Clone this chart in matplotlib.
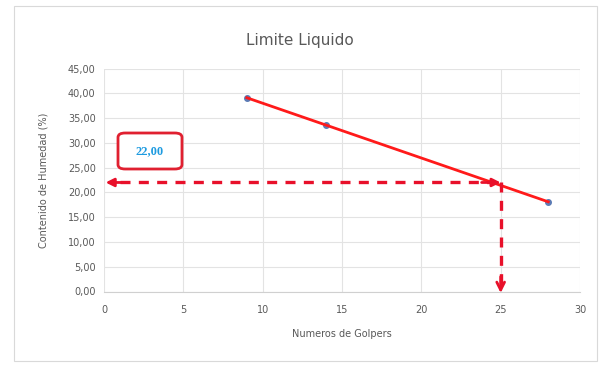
import matplotlib

matplotlib.use("Agg")

from matplotlib import pyplot as plt
from matplotlib.patches import FancyBboxPatch, Rectangle

golpes = [9, 14, 28]
humedad = [39.1, 33.6, 18.1]
limite_liquido = 22.00
golpes_ref = 25
x_ticks = [0, 5, 10, 15, 20, 25, 30]
y_ticks = [0, 5, 10, 15, 20, 25, 30, 35, 40, 45]

RED = "#e8102a"
GRAY = "#595959"

fig = plt.figure(figsize=(5.99, 3.65), dpi=100)
fig.patch.set_facecolor("white")

# chart frame
fig.patches.append(Rectangle((14 / 599, 4 / 365), 583 / 599, 355 / 365, transform=fig.transFigure,
                             fill=False, edgecolor="#d9d9d9", linewidth=0.8))

ax = fig.add_axes([104 / 599, 1 - 291.5 / 365, 476 / 599, 223 / 365])
ax.set_xlim(0, 30)
ax.set_ylim(0, 45)
ax.set_xticks(x_ticks)
ax.set_yticks(y_ticks)
ax.set_yticklabels([f"{v:.2f}".replace(".", ",") for v in y_ticks])
ax.grid(True, color="#e3e3e3", linewidth=0.8)
ax.set_axisbelow(True)
for side in ["top", "right", "left"]:
    ax.spines[side].set_visible(False)
ax.spines["bottom"].set_color("#d0d0d0")
ax.tick_params(length=0, labelsize=7, colors=GRAY, pad=6)
ax.tick_params(axis="x", pad=10)

ax.plot(golpes, humedad, "o", color="#5b7bb5", markersize=4, zorder=3)
ax.plot([golpes[0], golpes[-1]], [humedad[0], humedad[-1]], color="#ff1a1a", linewidth=2, zorder=4)

# dashed lectura lines
ax.plot([1.0, golpes_ref - 0.6], [limite_liquido, limite_liquido], color=RED, linewidth=2.4,
        dashes=(3, 2.5), zorder=5, clip_on=False)
ax.plot([golpes_ref, golpes_ref], [limite_liquido, 1.5], color=RED, linewidth=2.4,
        dashes=(3, 2.5), zorder=5, clip_on=False)

# arrow heads
ax.annotate("", xy=(0.1, limite_liquido), xytext=(1.2, limite_liquido),
            arrowprops=dict(arrowstyle="-|>", color=RED, linewidth=2, mutation_scale=12,
                            shrinkA=0, shrinkB=0), annotation_clip=False, zorder=6)
ax.annotate("", xy=(golpes_ref, limite_liquido), xytext=(golpes_ref - 1.2, limite_liquido),
            arrowprops=dict(arrowstyle="-|>", color=RED, linewidth=2, mutation_scale=12,
                            shrinkA=0, shrinkB=0), annotation_clip=False, zorder=6)
ax.annotate("", xy=(golpes_ref, -0.3), xytext=(golpes_ref, 3.0),
            arrowprops=dict(arrowstyle="->", color=RED, linewidth=2, mutation_scale=14,
                            shrinkA=0, shrinkB=0), annotation_clip=False, zorder=6)

# label box
fig.patches.append(FancyBboxPatch((118 / 599, 1 - 169 / 365), 64 / 599, 36 / 365,
                                  boxstyle="round,pad=0,rounding_size=0.012", transform=fig.transFigure,
                                  facecolor="white", edgecolor="#e02030", linewidth=2))
fig.text(150 / 599, 1 - 151 / 365, f"{limite_liquido:.2f}".replace(".", ","), ha="center", va="center",
         fontsize=9, fontweight="bold", color="#1e9be0", family="Liberation Serif")

fig.text(300 / 599, 1 - 40 / 365, "Limite Liquido", ha="center", va="center", fontsize=11, color=GRAY)
ax.set_xlabel("Numeros de Golpers", fontsize=7, color=GRAY, labelpad=10)
ax.set_ylabel("Contenido de Humedad (%)", fontsize=7, color=GRAY, labelpad=14)

fig.savefig("out.png", dpi=100)
